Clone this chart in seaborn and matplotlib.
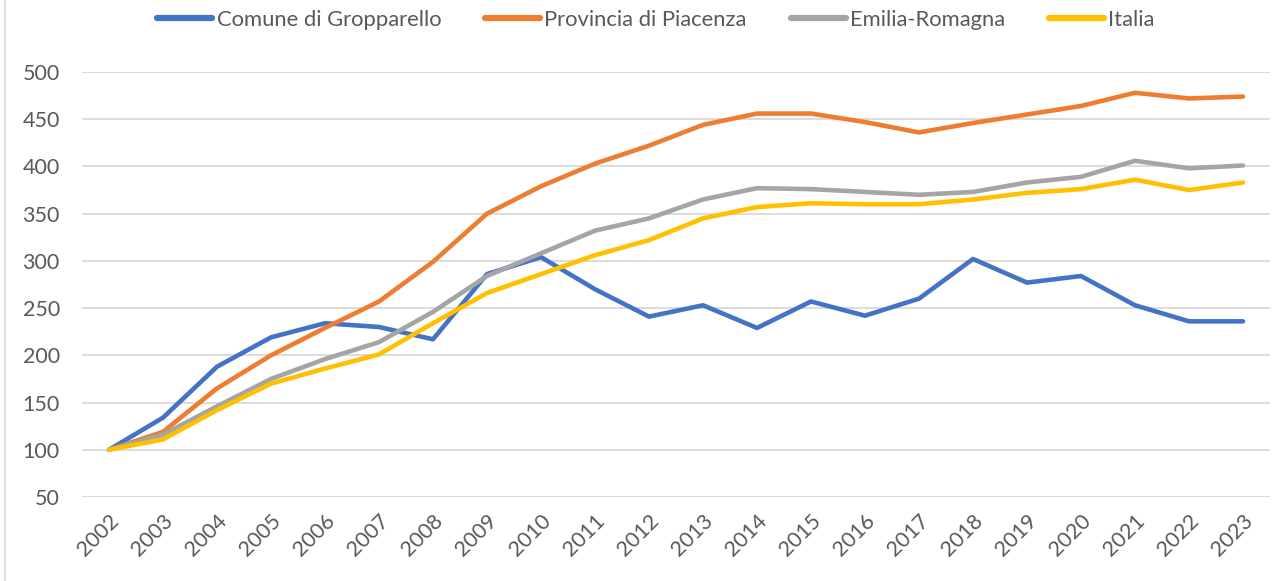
import matplotlib
matplotlib.use("Agg")
import matplotlib.pyplot as plt
import seaborn as sns
import pandas as pd
from matplotlib.lines import Line2D

years = [str(y) for y in range(2002, 2024)]
gropparello = [100, 134, 188, 219, 234, 230, 217, 286, 304, 270, 241, 253, 229, 257, 242, 260, 302, 277, 284, 253, 236, 236]
piacenza = [100, 119, 165, 200, 229, 257, 299, 350, 379, 403, 422, 444, 456, 456, 447, 436, 446, 455, 464, 478, 472, 474]
emilia = [100, 116, 146, 175, 196, 214, 246, 284, 308, 332, 345, 365, 377, 376, 373, 370, 373, 383, 389, 406, 398, 401]
italia = [100, 111, 142, 170, 186, 201, 234, 266, 286, 306, 322, 345, 357, 361, 360, 360, 365, 372, 376, 386, 375, 383]
series_names = ["Comune di Gropparello", "Provincia di Piacenza", "Emilia-Romagna", "Italia"]
colors = ["#4472C4", "#ED7D31", "#A5A5A5", "#FFC000"]
y_ticks = [50, 100, 150, 200, 250, 300, 350, 400, 450, 500]

rows = []
for name, vals in zip(series_names, [gropparello, piacenza, emilia, italia]):
    for i, (yr, v) in enumerate(zip(years, vals)):
        rows.append({"idx": i, "anno": yr, "serie": name, "valore": v})
df = pd.DataFrame(rows)

sns.set_theme(style="white")
plt.rcParams["font.family"] = ["Lato", "DejaVu Sans"]
text_color = "#595959"

fig = plt.figure(figsize=(12.76, 5.81), dpi=100)
ax = fig.add_axes([82/1276, 1-497/581, (1270-82)/1276, (497-72)/581])

sns.lineplot(data=df, x="idx", y="valore", hue="serie", hue_order=series_names,
             palette=colors, linewidth=3.3, ax=ax, legend=False, zorder=3,
             solid_capstyle="round", solid_joinstyle="round")

ax.set_xlim(-0.5, len(years) - 0.5)
ax.set_ylim(50, 500)
ax.set_yticks(y_ticks)
ax.set_yticklabels([str(t) for t in y_ticks])
ax.set_xticks(range(len(years)))
ax.set_xticklabels(years, rotation=45, ha="right", rotation_mode="anchor")
ax.tick_params(axis="both", length=0, labelsize=15.5, colors=text_color)
ax.tick_params(axis="y", pad=16)
ax.tick_params(axis="x", pad=10)
ax.grid(axis="y", color="#D9D9D9", linewidth=1.3, zorder=0)
ax.grid(axis="x", visible=False)
for s in ax.spines.values():
    s.set_visible(False)
ax.set_xlabel("")
ax.set_ylabel("")

handles = [Line2D([0], [0], color=c, linewidth=4.5, solid_capstyle="round") for c in colors]
fig.legend(handles, series_names, loc="center", bbox_to_anchor=(656/1276, 1-20/581),
           ncol=4, frameon=False, fontsize=15.8, labelcolor=text_color,
           handlelength=2.5, handletextpad=0.2, columnspacing=2.0)

fig.add_artist(Line2D([5/1276, 5/1276], [0, 1], color="#D9D9D9", linewidth=1.2, transform=fig.transFigure))

fig.savefig("out.png", dpi=100, facecolor="white")
